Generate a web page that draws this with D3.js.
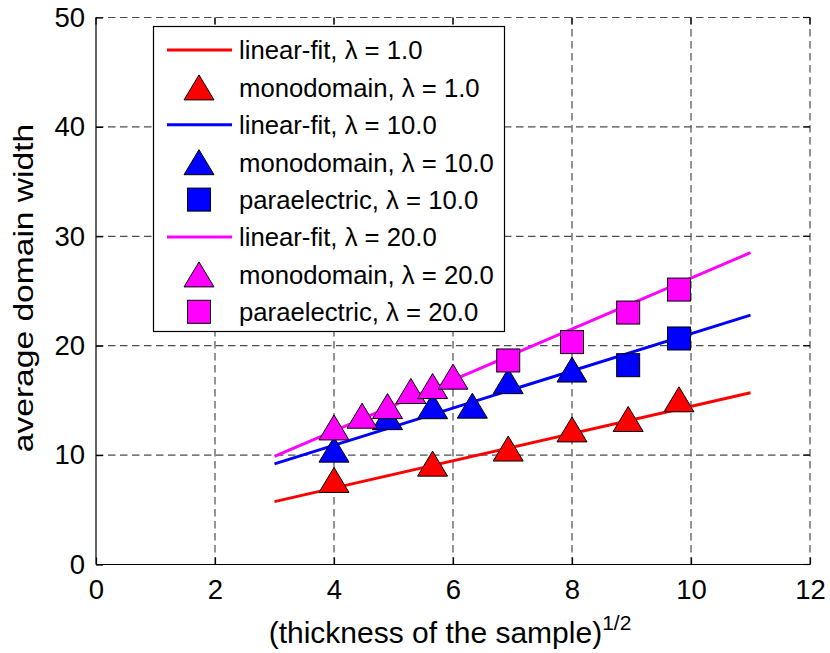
<!DOCTYPE html>
<html>
<head>
<meta charset="utf-8">
<script src="https://cdn.jsdelivr.net/npm/d3@7"></script>
<style>
  html, body { margin: 0; padding: 0; background: #fff; }
  svg { display: block; font-family: "Liberation Sans", Arial, Helvetica, sans-serif; }
</style>
</head>
<body>
<svg id="chart" width="830" height="653"></svg>
<script>
// Average domain width vs. square root of sample thickness
const xTicks = [0, 2, 4, 6, 8, 10, 12];
const yTicks = [0, 10, 20, 30, 40, 50];

// Linear fits (endpoints over the fitted range)
const fitX = [3, 11];
const fit1 = [5.75, 15.7];
const fit10 = [9.2, 22.8];
const fit20 = [9.88, 28.5];

// lambda = 1.0
const mono1X = [4.0, 5.657, 6.928, 8.0, 8.944, 9.798];
const mono1Y = [7.73, 9.22, 10.6, 12.35, 13.3, 15.1];

// lambda = 10.0
const mono10X = [4.0, 4.899, 5.657, 6.325, 6.928, 8.0];
const mono10Y = [10.5, 13.47, 14.47, 14.52, 16.76, 17.82];
const para10X = [8.944, 9.798];
const para10Y = [18.22, 20.66];

// lambda = 20.0
const mono20X = [4.0, 4.472, 4.899, 5.292, 5.657, 6.0];
const mono20Y = [12.53, 13.6, 14.48, 15.86, 16.31, 17.17];
const para20X = [6.928, 8.0, 8.944, 9.798];
const para20Y = [18.65, 20.33, 23.03, 25.13];

const legendLabels = [
  "linear-fit, \u03bb = 1.0",
  "monodomain, \u03bb = 1.0",
  "linear-fit, \u03bb = 10.0",
  "monodomain, \u03bb = 10.0",
  "paraelectric, \u03bb = 10.0",
  "linear-fit, \u03bb = 20.0",
  "monodomain, \u03bb = 20.0",
  "paraelectric, \u03bb = 20.0"
];

const RED = "#ff0000", BLUE = "#0000ff", MAGENTA = "#ff00ff";

const svg = d3.select("#chart");
const pL = 96, pR = 810, pT = 17.5, pB = 564.5;
const x = d3.scaleLinear().domain([0, 12]).range([pL, pR]);
const y = d3.scaleLinear().domain([0, 50]).range([pB, pT]);

const zip = (a, b) => a.map((v, i) => [v, b[i]]);

// grid
const grid = svg.append("g").attr("stroke", "#4d4d4d").attr("stroke-width", 1.2)
  .attr("stroke-dasharray", "7.5,4.5").attr("fill", "none");
xTicks.slice(1).forEach(t => grid.append("line")
  .attr("x1", x(t)).attr("x2", x(t)).attr("y1", pB).attr("y2", pT));
yTicks.slice(1).forEach(t => grid.append("line")
  .attr("x1", pL).attr("x2", pR).attr("y1", y(t)).attr("y2", y(t)));

// axes (left and bottom solid, ticks inward)
const xAxis = d3.axisBottom(x).tickValues(xTicks).tickSize(-7).tickPadding(15);
const yAxis = d3.axisLeft(y).tickValues(yTicks).tickSize(-7).tickPadding(11);
const gx = svg.append("g").attr("transform", `translate(0,${pB})`).call(xAxis);
const gy = svg.append("g").attr("transform", `translate(${pL},0)`).call(yAxis);
[gx, gy].forEach(g => {
  g.select(".domain").attr("stroke", "#000").attr("stroke-width", 1.2);
  g.selectAll(".tick line").attr("stroke", "#000").attr("stroke-width", 1.2);
  g.selectAll(".tick text").attr("fill", "#000").attr("font-size", 27.5)
    .attr("font-family", "Liberation Sans, Arial, sans-serif");
});
gx.select(".domain").attr("d", `M${pL},0H${pR}`);
gy.select(".domain").attr("d", `M0,${pB}V${pT}`);
// top and right tick marks
const tk = svg.append("g").attr("stroke", "#000").attr("stroke-width", 1.2);
xTicks.forEach(t => tk.append("line").attr("x1", x(t)).attr("x2", x(t)).attr("y1", pT).attr("y2", pT + 7));
yTicks.forEach(t => tk.append("line").attr("x1", pR).attr("x2", pR - 7).attr("y1", y(t)).attr("y2", y(t)));

// axis labels
const xl = svg.append("text").attr("x", 450).attr("y", 643)
  .attr("text-anchor", "middle").attr("font-size", 30).attr("fill", "#000");
xl.append("tspan").text("(thickness of the sample)");
xl.append("tspan").attr("dy", -13).attr("font-size", 21).text("1/2");

// y label, slightly stretched along its length
svg.append("text").attr("transform", `translate(33,288) rotate(-90) scale(1.2,1)`)
  .attr("text-anchor", "middle").attr("font-size", 28).attr("fill", "#000")
  .text("average domain width");

// marker shapes
const triPath = (w, h) => `M0,${-h / 2}L${w / 2},${h / 2}L${-w / 2},${h / 2}Z`;
const TRI = triPath(30, 25);
const SQ = 23;

const line = d3.line().x(d => x(d[0])).y(d => y(d[1]));
const plot = svg.append("g");

function drawFit(vals, color) {
  plot.append("path").datum(zip(fitX, vals)).attr("d", line)
    .attr("fill", "none").attr("stroke", color).attr("stroke-width", 3);
}
function drawTri(xs, ys, color) {
  plot.append("g").selectAll("path").data(zip(xs, ys)).join("path")
    .attr("d", TRI).attr("transform", d => `translate(${x(d[0])},${y(d[1])})`)
    .attr("fill", color).attr("stroke", "#000").attr("stroke-width", 1);
}
function drawSq(xs, ys, color) {
  plot.append("g").selectAll("rect").data(zip(xs, ys)).join("rect")
    .attr("x", d => x(d[0]) - SQ / 2).attr("y", d => y(d[1]) - SQ / 2)
    .attr("width", SQ).attr("height", SQ)
    .attr("fill", color).attr("stroke", "#000").attr("stroke-width", 1);
}

drawFit(fit1, RED);
drawTri(mono1X, mono1Y, RED);
drawFit(fit10, BLUE);
drawTri(mono10X, mono10Y, BLUE);
drawSq(para10X, para10Y, BLUE);
drawFit(fit20, MAGENTA);
drawTri(mono20X, mono20Y, MAGENTA);
drawSq(para20X, para20Y, MAGENTA);

// legend
const kinds = ["line", "tri", "line", "tri", "sq", "line", "tri", "sq"];
const colors = [RED, RED, BLUE, BLUE, BLUE, MAGENTA, MAGENTA, MAGENTA];
const lg = svg.append("g");
lg.append("rect").attr("x", 153.5).attr("y", 26.5).attr("width", 351).attr("height", 305)
  .attr("fill", "#fff").attr("stroke", "#000").attr("stroke-width", 1.2);
const rowY = i => 50 + i * 37.4;
legendLabels.forEach((lab, i) => {
  const cy = rowY(i);
  if (kinds[i] === "line") {
    lg.append("line").attr("x1", 167).attr("x2", 232).attr("y1", cy).attr("y2", cy)
      .attr("stroke", colors[i]).attr("stroke-width", 3);
  } else if (kinds[i] === "tri") {
    lg.append("path").attr("d", TRI).attr("transform", `translate(199,${cy})`)
      .attr("fill", colors[i]).attr("stroke", "#000").attr("stroke-width", 1);
  } else {
    lg.append("rect").attr("x", 199 - SQ / 2).attr("y", cy - SQ / 2).attr("width", SQ).attr("height", SQ)
      .attr("fill", colors[i]).attr("stroke", "#000").attr("stroke-width", 1);
  }
  lg.append("text").attr("x", 239).attr("y", cy + 9.3).attr("font-size", 25.7).attr("fill", "#000").text(lab);
});
</script>
</body>
</html>
